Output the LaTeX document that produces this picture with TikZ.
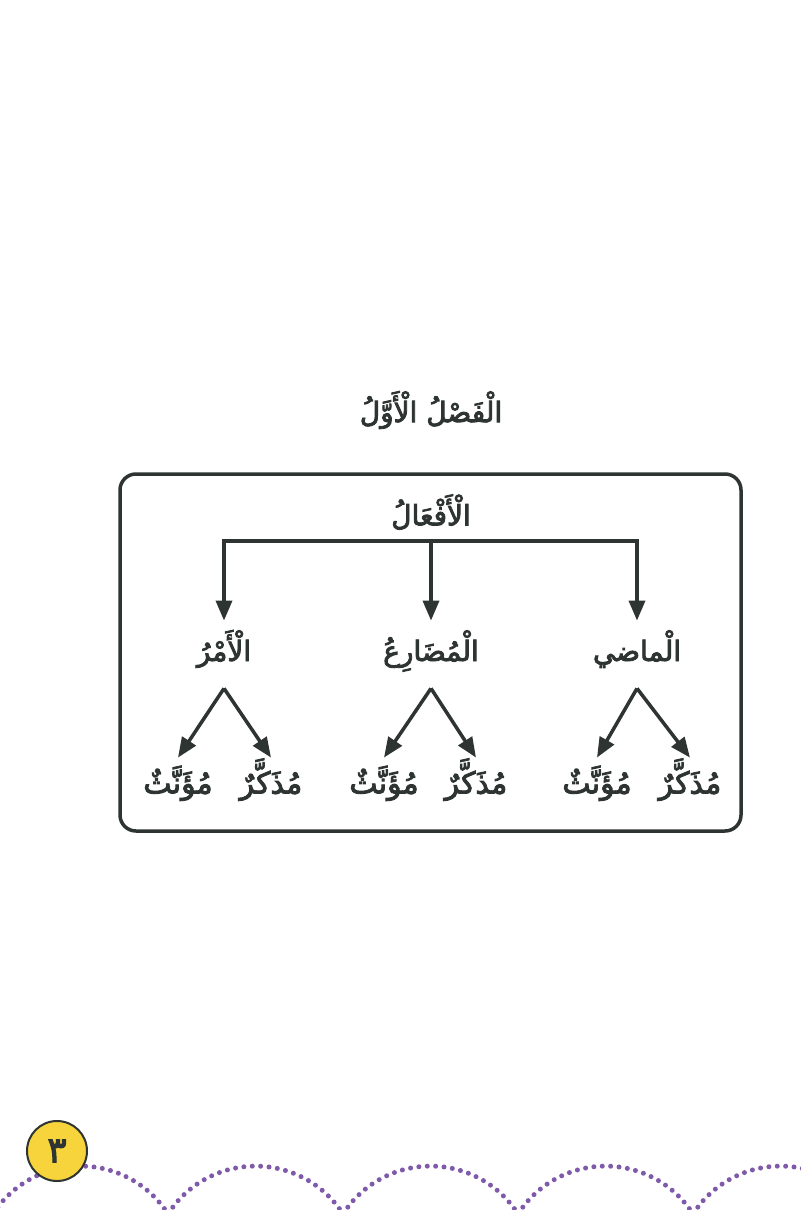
\documentclass[tikz,border=0pt]{standalone}
\usepackage{fontspec}
\usetikzlibrary{arrows.meta,calc}
\TeXXeTstate=1
\newfontfamily\arabicfont[Script=Arabic,FakeBold=3]{DejaVu Sans}
\definecolor{ink}{HTML}{2E3431}
\definecolor{pgyellow}{HTML}{F7D43C}
\definecolor{dotpurple}{HTML}{7F5AAA}
\begin{document}
\begin{tikzpicture}[x=0.5pt,y=0.5pt,
  ar/.style={font=\arabicfont\fontsize{14}{16}\selectfont, text=ink, inner sep=0pt},
  lbl/.style={ar, minimum height=33.5pt, text height=10pt, text depth=3.5pt},
  word/.style={ar, font=\arabicfont\fontsize{15}{17}\selectfont, minimum height=29pt, text height=10pt, text depth=3.5pt},
  conn/.style={draw=ink, line width=1.75pt},
  arr/.style={conn, -{Triangle[length=10pt,width=8pt]}},
  dots/.style={draw=dotpurple, line width=2.5pt, line cap=round, dash pattern=on 0pt off 4.2pt}
]
\useasboundingbox (0,0) rectangle (800,-1210);
\fill[white] (0,0) rectangle (800,-1210);

% title
\node[ar] (title) at (431,-410) {\beginR الْفَصْلُ الْأَوَّلُ\endR};

% frame
\draw[conn, rounded corners=8pt] (120,-474) rectangle (741,-831);

% root
\node[ar] (root) at (431,-512) {\beginR الْأَفْعَالُ\endR};

% bar
\coordinate (bL) at (224,-541);
\coordinate (bM) at (431,-541);
\coordinate (bR) at (637,-541);
\draw[conn, line cap=rect] (bL) -- (bR);

% second level
\node[lbl] (amr) at (224,-654.5) {\beginR الْأَمْرُ\endR};
\node[lbl] (mud) at (431,-654.5) {\beginR الْمُضَارِعُ\endR};
\node[lbl] (mad) at (637,-654.5) {\beginR الْماضي\endR};

\draw[arr] (bL) -- (amr.north);
\draw[arr] (bM) -- (mud.north);
\draw[arr] (bR) -- (mad.north);

% third level
\node[word] (amrF) at (178,-787) {\beginR مُؤَنَّثٌ\endR};
\node[word] (amrM) at (271,-787) {\beginR مُذَكَّرٌ\endR};
\node[word] (mudF) at (384,-787) {\beginR مُؤَنَّثٌ\endR};
\node[word] (mudM) at (476,-787) {\beginR مُذَكَّرٌ\endR};
\node[word] (madF) at (597,-787) {\beginR مُؤَنَّثٌ\endR};
\node[word] (madM) at (690,-787) {\beginR مُذَكَّرٌ\endR};

\foreach \p/\f/\m in {amr/amrF/amrM, mud/mudF/mudM, mad/madF/madM}{
  \draw[arr] (\p.south) -- (\f.north);
  \draw[arr] (\p.south) -- (\m.north);
}

% dotted scallops
\foreach \c in {-7,168,343,518,693}{
  \draw[dots] (\c,-1214) arc[start angle=147.4, end angle=32.6, radius=103.9];
}

% page number
\node[circle, draw=ink, fill=pgyellow, line width=1pt, minimum size=30pt, inner sep=0pt,
      font=\arabicfont\fontsize{18}{20}\selectfont, text=ink] (pg) at (57,-1151) {٣};
\end{tikzpicture}
\end{document}
